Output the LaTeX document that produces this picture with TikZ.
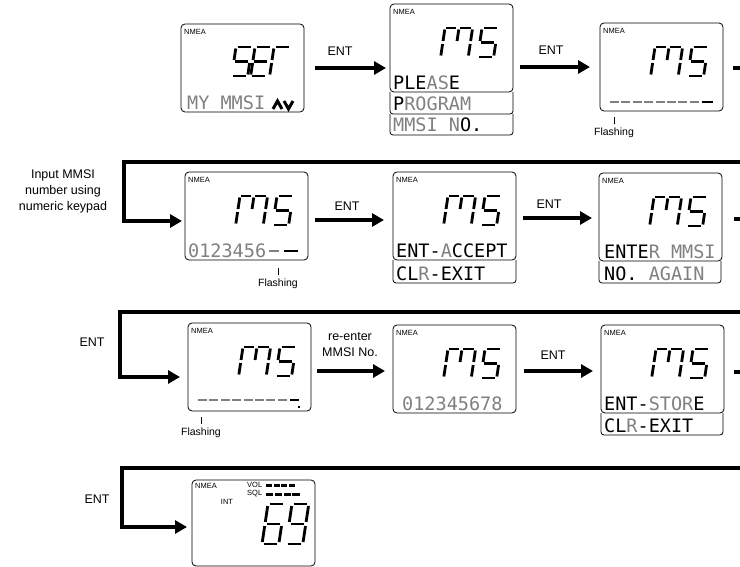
\documentclass[tikz,border=0pt]{standalone}
\usepackage{fontspec}
\setmainfont{Liberation Sans}
\newfontfamily\lcdfont{DejaVu Sans Mono}
\usetikzlibrary{arrows.meta}
\definecolor{lcdgray}{gray}{0.5}
\newcommand\G[1]{\textcolor{lcdgray}{#1}}
\newcommand\dig[4][]{%
 \begin{scope}[shift={(#2,#3)},xslant=0.15,#1]
 \foreach \s in {#4}{%
  \if a\s \draw[seg] (1.5,0)--(14.5,0);\fi
  \if b\s \draw[seg] (16,1.5)--(16,13);\fi
  \if c\s \draw[seg] (16,16)--(16,27.5);\fi
  \if d\s \draw[seg] (1.5,29)--(14.5,29);\fi
  \if e\s \draw[seg] (0,16)--(0,27.5);\fi
  \if f\s \draw[seg] (0,1.5)--(0,13);\fi
  \if g\s \draw[seg] (1.5,14.5)--(14.5,14.5);\fi
 }
 \end{scope}}
\newcommand\MSglyph{%
 \dig[xscale=0.75]{55}{24}{a,e,f}%
 \dig[xscale=0.85]{69}{24}{a,b,c,f}%
 \dig{92}{24}{a,c,d,f,g}}
\begin{document}
\begin{tikzpicture}[x=1pt,y=-1pt,
 lcd/.style={draw, line width=0.8pt, rounded corners=4pt, minimum width=123pt, minimum height=88pt, inner sep=0pt, outer sep=0pt, anchor=north west},
 sub/.style={line width=0.8pt, rounded corners=3pt},
 arr/.style={line width=3.6pt, -{Triangle[length=12pt,width=13pt]}},
 bar/.style={line width=3.6pt},
 seg/.style={line width=2.8pt},
 lbl/.style={font=\fontsize{12.5}{16}\selectfont, inner sep=0pt, align=center},
 flash/.style={font=\fontsize{10.5}{12}\selectfont, inner sep=1pt},
 tick/.style={line width=0.7pt},
 nmea/.style={font=\fontsize{7.5}{7.5}\selectfont, anchor=west, inner sep=0pt},
 lcdtxt/.style={font=\lcdfont\fontsize{18.5}{18.5}\selectfont, anchor=base west, inner sep=0pt},
 gdash/.style={line width=1.2pt, lcdgray},
 kdash/.style={line width=2.2pt},
]
\useasboundingbox (0,0) rectangle (740,567);
\clip (0,0) rectangle (740,567);
\coordinate (edge) at (745,0);

% ---------- boxes ----------
\node[lcd] (A) at (181,24) {};
\node[lcd] (B) at (390,4) {};
\node[lcd] (C) at (600,23) {};
\node[lcd] (D) at (185,172) {};
\node[lcd] (E) at (393,172) {};
\node[lcd] (F) at (599,173) {};
\node[lcd] (G) at (188,323) {};
\node[lcd] (H) at (393,325) {};
\node[lcd] (I) at (601,325) {};
\node[lcd, minimum height=86pt] (J) at (192,480) {};

% sub boxes
\draw[sub] (B.south west) -- ++(0,22) -- ++(123,0) -- ++(0,-22);
\draw[sub] ([yshift=-22pt]B.south west) -- ++(0,21) -- ++(123,0) -- ++(0,-21);
\draw[sub] (E.south west) -- ++(0,23) -- ++(123,0) -- ++(0,-23);
\draw[sub] (F.south west) -- ++(0,22) -- ++(122,0) -- ++(0,-22);
\draw[sub] (I.south west) -- ++(0,22) -- ++(122,0) -- ++(0,-22);

% ---------- box contents ----------
\begin{scope}[shift={(A.north west)}]
 \node[nmea] (nA) at (3,8) {NMEA};
 \dig{55}{23}{a,c,d,f,g}\dig{74}{23}{a,d,e,f,g}\dig{93}{23}{a,e,f}
 \node[lcdtxt] (tA) at (6,85.5) {\G{MY MMSI}};
 \draw[line width=3pt, line join=miter] (92,85) -- (96.5,77) -- (101,85);
 \draw[line width=3pt, line join=miter] (103,77) -- (107.5,85) -- (112,77);
\end{scope}

\begin{scope}[shift={(B.north west)}]
 \node[nmea] (nB) at (3,8) {NMEA};
 \MSglyph
 \node[lcdtxt] (tB1) at (3,85.5) {PLE\G{AS}E};
 \node[lcdtxt] (tB2) at (3,107) {P\G{ROGRAM}};
 \node[lcdtxt] (tB3) at (3,128) {\G{MMSI N}O.};
\end{scope}

\begin{scope}[shift={(C.north west)}]
 \node[nmea] (nC) at (3,8) {NMEA};
 \MSglyph
 \foreach \i in {0,...,7} \draw[gdash] (10+11.4*\i,79) -- ++(9,0);
 \draw[kdash] (101.5,79) -- (113,79);
\end{scope}

\begin{scope}[shift={(D.north west)}]
 \node[nmea] (nD) at (3,8) {NMEA};
 \MSglyph
 \node[lcdtxt] (tD) at (3,85.5) {\G{0123456}};
 \draw[gdash] (84,79) -- (94,79);
 \draw[kdash] (99,79) -- (113,79);
\end{scope}

\begin{scope}[shift={(E.north west)}]
 \node[nmea] (nE) at (3,8) {NMEA};
 \MSglyph
 \node[lcdtxt] (tE1) at (3,85.5) {ENT-\G{A}CCEPT};
 \node[lcdtxt] (tE2) at (3,108) {CL\G{R}-EXIT};
\end{scope}

\begin{scope}[shift={(F.north west)}]
 \node[nmea] (nF) at (3,8) {NMEA};
 \MSglyph
 \node[lcdtxt] (tF1) at (5,85.5) {ENTE\G{R MMSI}};
 \node[lcdtxt] (tF2) at (5,107) {NO. \G{AGAIN}};
\end{scope}

\begin{scope}[shift={(G.north west)}]
 \node[nmea] (nG) at (3,8) {NMEA};
 \MSglyph
 \foreach \i in {0,...,7} \draw[gdash] (10+11.4*\i,77) -- ++(9,0);
 \draw[kdash] (102,77) -- (111,77);
 \fill (110,82.5) rectangle (112,84.5);
\end{scope}

\begin{scope}[shift={(H.north west)}]
 \node[nmea] (nH) at (3,8) {NMEA};
 \MSglyph
 \node[lcdtxt] (tH) at (9,85.5) {\G{012345678}};
\end{scope}

\begin{scope}[shift={(I.north west)}]
 \node[nmea] (nI) at (3,8) {NMEA};
 \MSglyph
 \node[lcdtxt] (tI1) at (3,85.5) {ENT-\G{STOR}E};
 \node[lcdtxt] (tI2) at (3,107) {CL\G{R}-EXIT};
\end{scope}

\begin{scope}[shift={(J.north west)}]
 \node[nmea] (nJ) at (3,6) {NMEA};
 \node[nmea] (vol) at (55,5) {VOL};
 \node[nmea] (sql) at (55,14) {SQL};
 \foreach \i in {0,...,3} \fill (74+7.5*\i,3.5) rectangle ++(6,3);
 \foreach \i in {0,...,3} \fill (74+8.8*\i,13) rectangle ++(7.3,3);
 \node[nmea, anchor=center] (int) at (35,22) {INT};
 \dig[xscale=1.05,yscale=1.38]{76}{24}{a,c,d,e,f,g}
 \dig[xscale=1.05,yscale=1.38]{100}{24}{a,b,c,d,f,g}
\end{scope}

% ---------- row 1 ----------
\draw[arr] ([xshift=11pt]A.east) -- ([xshift=-4pt]A.east -| B.west);
\node[lbl] (e1) at (340,51) {ENT};
\draw[arr] ([xshift=7pt]C.west -| B.east) -- ([xshift=-10pt]C.west);
\node[lbl] (e2) at (551,50) {ENT};
\draw[bar] ([xshift=10pt,yshift=-1pt]C.east) -- ([yshift=-1pt]C.east -| edge);
\node[flash] (fC) at (614,133) {Flashing};
\draw[tick] ([yshift=3pt]fC.north) -- ++(0,-7);

% ---------- row 2 ----------
\coordinate (t2) at (745,162);
\coordinate (k2) at (124,162);
\draw[arr, line join=miter] (t2) -- (k2) |- ([xshift=-3pt,yshift=-5pt]D.west);
\node[lbl] (inp) at (63,191) {Input MMSI\\number using\\numeric keypad};
\draw[arr] ([xshift=7pt,yshift=-4pt]D.east) -- ([xshift=-9pt,yshift=-4pt]D.east -| E.west);
\node[lbl] (e3) at (347,206) {ENT};
\draw[arr] ([xshift=7pt,yshift=-2pt]E.east) -- ([xshift=-7pt,yshift=-2pt]E.east -| F.west);
\node[lbl] (e4) at (549,204) {ENT};
\draw[bar] ([xshift=12pt,yshift=-2pt]F.east) -- ([yshift=-2pt]F.east -| edge);
\node[flash] (fD) at (278,284) {Flashing};
\draw[tick] ([yshift=3pt]fD.north) -- ++(0,-7);

% ---------- row 3 ----------
\coordinate (t3) at (745,312);
\coordinate (k3) at (120,312);
\draw[arr, line join=miter] (t3) -- (k3) |- ([xshift=-8pt,yshift=-10pt]G.west);
\node[lbl] (e5) at (92,342) {ENT};
\draw[arr] ([xshift=6pt,yshift=-4pt]G.east) -- ([xshift=-8pt,yshift=-4pt]G.east -| H.west);
\node[lbl] (re) at (350,345) {re-enter\\MMSI No.};
\draw[arr] ([xshift=8pt,yshift=-2pt]H.east) -- ([xshift=-8pt,yshift=-2pt]H.east -| I.west);
\node[lbl] (e6) at (553,355) {ENT};
\draw[bar] ([xshift=10pt,yshift=-3pt]I.east) -- ([yshift=-3pt]I.east -| edge);
\node[flash] (fG) at (201,433) {Flashing};
\draw[tick] ([yshift=3pt]fG.north) -- ++(0,-7);

% ---------- row 4 ----------
\coordinate (t4) at (745,468);
\coordinate (k4) at (122,468);
\draw[arr, line join=miter] (t4) -- (k4) |- ([xshift=-5pt,yshift=-4pt]J.west);
\node[lbl] (e7) at (97,499) {ENT};
\end{tikzpicture}
\end{document}
